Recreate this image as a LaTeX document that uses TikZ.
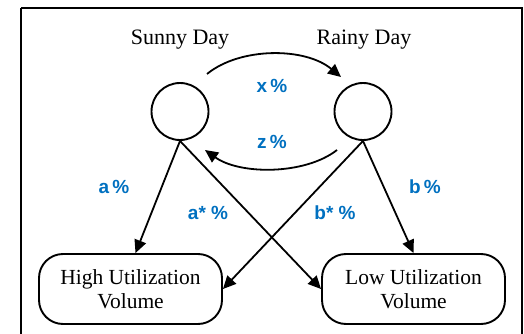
\documentclass[tikz,border=0pt]{standalone}
\usepackage{fontspec}
\setmainfont{Liberation Serif}
\newfontfamily\lblfont{Liberation Sans}
\usetikzlibrary{arrows.meta}
\definecolor{lblblue}{HTML}{0070C0}
\tikzset{
  conn/.style={line width=1.8pt,-{Triangle[length=13pt,width=12pt]}},
  state/.style={circle,draw,line width=1.9pt,minimum size=57pt,inner sep=0pt},
  volbox/.style={draw,line width=1.9pt,rounded corners=24pt,minimum width=183pt,minimum height=70pt,align=center,inner sep=0pt,font=\fontsize{21.5}{24}\selectfont},
  title/.style={anchor=base,font=\fontsize{22}{24}\selectfont},
  pct/.style={text=lblblue,font=\lblfont\bfseries\fontsize{19}{21}\selectfont},
}
\begin{document}
\begin{tikzpicture}[x=1pt,y=-1pt]
\useasboundingbox (0,0) rectangle (524,334);
\draw[line width=2pt] (21,8) -- (521.5,8) -- (521.5,340);
\draw[line width=2pt] (21,8) -- (21,340);
\node[state] (S) at (180,111.5) {};
\node[state] (R) at (363,111.5) {};
\node[title] (st) at (180,45) {Sunny Day};
\node[title] (rt) at (364,45) {Rainy Day};
\node[volbox] (H) at (130.5,289) {High Utilization\\Volume};
\node[volbox] (L) at (413.5,289) {Low Utilization\\Volume};
\coordinate (x1) at (207,74);
\coordinate (x2) at (341,77);
\coordinate (z1) at (337,150);
\coordinate (z2) at (205,150);
\draw[conn] (x1) .. controls (240,47) and (305,47) .. (x2);
\draw[conn] (z1) .. controls (305,175) and (240,175) .. (z2);
\draw[conn] (S.south) -- ([xshift=5pt]H.north);
\draw[conn] (S.south) -- (L.west);
\draw[conn] (R.south) -- (H.east);
\draw[conn] (R.south) -- (L.north);
\node[pct] (lx) at (272,86) {x\,\%};
\node[pct] (lz) at (272,142) {z\,\%};
\node[pct] (la) at (114,187) {a\,\%};
\node[pct] (las) at (208,213) {a* \%};
\node[pct] (lbs) at (335,213) {b* \%};
\node[pct] (lb) at (425,187) {b\,\%};
\end{tikzpicture}
\end{document}
